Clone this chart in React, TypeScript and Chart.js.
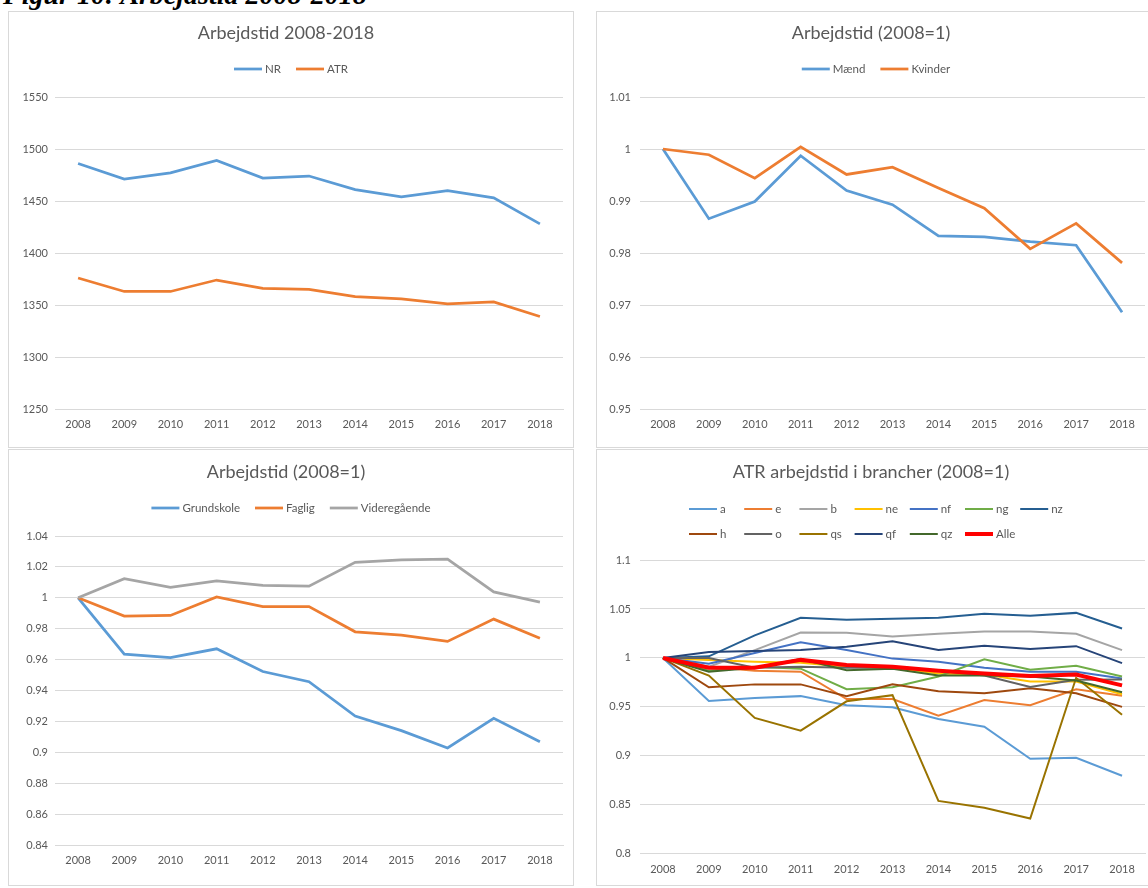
import React, { useEffect, useRef } from "react";
import { Chart, registerables } from "chart.js";

Chart.register(...registerables);

// ---------- data ----------
const years = ["2008", "2009", "2010", "2011", "2012", "2013", "2014", "2015", "2016", "2017", "2018"];

// Panel 1: Arbejdstid 2008-2018 (hours)
const nr = [1486, 1471, 1477, 1489, 1472, 1474, 1461, 1454, 1460, 1453, 1428];
const atr = [1376, 1363, 1363, 1374, 1366, 1365, 1358, 1356, 1351, 1353, 1339];

// Panel 2: Arbejdstid (2008=1) by gender
const maend = [1, 0.9866, 0.9899, 0.9987, 0.992, 0.9893, 0.9833, 0.9831, 0.9822, 0.9815, 0.9686];
const kvinder = [1, 0.9989, 0.9944, 1.0004, 0.9951, 0.9965, 0.9925, 0.9886, 0.9808, 0.9857, 0.9781];

// Panel 3: Arbejdstid (2008=1) by education
const grundskole = [1, 0.9635, 0.9613, 0.967, 0.9523, 0.9457, 0.9235, 0.914, 0.9028, 0.922, 0.9068];
const faglig = [1, 0.9882, 0.9886, 1.0005, 0.9943, 0.9943, 0.978, 0.9758, 0.9718, 0.9862, 0.9738];
const videregaaende = [1, 1.0124, 1.0068, 1.011, 1.008, 1.0075, 1.023, 1.0245, 1.025, 1.0038, 0.9972];

// Panel 4: ATR arbejdstid i brancher (2008=1)
const brA = [1, 0.956, 0.959, 0.961, 0.9517, 0.9497, 0.9377, 0.9297, 0.897, 0.898, 0.8797];
const brE = [1, 0.991, 0.987, 0.986, 0.958, 0.958, 0.941, 0.957, 0.9517, 0.968, 0.9613];
const brB = [1, 0.991, 1.008, 1.026, 1.0257, 1.022, 1.0247, 1.027, 1.027, 1.0247, 1.008];
const brNe = [1, 0.998, 0.996, 0.995, 0.991, 0.99, 0.984, 0.983, 0.976, 0.976, 0.963];
const brNf = [1, 0.994, 1.005, 1.016, 1.008, 0.9993, 0.996, 0.99, 0.986, 0.986, 0.979];
const brNg = [1, 0.987, 0.991, 0.989, 0.968, 0.97, 0.981, 0.9987, 0.988, 0.992, 0.981];
const brNz = [1, 1.0016, 1.023, 1.041, 1.039, 1.04, 1.041, 1.045, 1.043, 1.046, 1.03];
const brH = [1, 0.97, 0.973, 0.973, 0.961, 0.973, 0.966, 0.964, 0.969, 0.964, 0.95];
const brO = [1, 1.0, 0.99, 0.991, 0.99, 0.99, 0.987, 0.982, 0.9704, 0.9777, 0.978];
const brQs = [1, 0.982, 0.9387, 0.9257, 0.9557, 0.962, 0.854, 0.847, 0.836, 0.9797, 0.942];
const brQf = [1, 1.006, 1.007, 1.008, 1.0115, 1.017, 1.008, 1.0125, 1.009, 1.012, 0.9947];
const brQz = [1, 0.986, 0.99, 0.999, 0.9875, 0.989, 0.982, 0.982, 0.981, 0.977, 0.965];
const brAlle = [1, 0.99, 0.99, 0.998, 0.9928, 0.991, 0.987, 0.984, 0.9816, 0.983, 0.972];

// ---------- style ----------
const FONT = "Lato";
const TEXT = "#595959";
const GRID = "#D9D9D9";

type Series = { label: string; data: number[]; color: string; width: number };

type LegendCfg = { rows: number[][]; ys: number[]; startX?: number; colWidth?: number };

function makeLegend(cfg: LegendCfg) {
  return {
    id: "excelLegend",
    afterDraw(chart: any) {
      const ctx = chart.ctx as CanvasRenderingContext2D;
      const ds = chart.data.datasets;
      const lineLen = 28;
      const gap = 3;
      const spacing = 15;
      ctx.save();
      ctx.font = `11.5px ${FONT}`;
      ctx.textBaseline = "middle";
      ctx.textAlign = "left";
      cfg.rows.forEach((row, r) => {
        const y = cfg.ys[r];
        const widths = row.map((i) =>
          cfg.colWidth !== undefined
            ? cfg.colWidth
            : lineLen + gap + ctx.measureText(ds[i].label).width + spacing
        );
        const total = widths.reduce((a, b) => a + b, 0) - (cfg.colWidth !== undefined ? 0 : spacing);
        let x = cfg.startX !== undefined ? cfg.startX : (chart.width - total) / 2;
        row.forEach((i, k) => {
          const d = ds[i];
          ctx.strokeStyle = d.borderColor;
          ctx.lineWidth = d.borderWidth;
          ctx.lineCap = "butt";
          ctx.beginPath();
          ctx.moveTo(x, y);
          ctx.lineTo(x + lineLen, y);
          ctx.stroke();
          ctx.fillStyle = TEXT;
          ctx.fillText(d.label, x + lineLen + gap, y + 0.5);
          x += widths[k];
        });
      });
      ctx.restore();
    },
  };
}

const fmt = (v: number) => String(Math.round(v * 10000) / 10000);

type PanelProps = {
  left: number;
  top: number;
  width: number;
  height: number;
  title: string;
  series: Series[];
  yMin: number;
  yMax: number;
  step: number;
  titleTop: number;
  titleBottom: number;
  yWidth: number;
  yPad: number;
  padRight: number;
  padBottom: number;
  legend: LegendCfg;
};

function Panel(p: PanelProps) {
  const ref = useRef<HTMLCanvasElement | null>(null);
  const cw = p.width - 2;
  const ch = p.height - 2;
  useEffect(() => {
    if (!ref.current) return;
    const n = p.series.length;
    const chart = new Chart(ref.current, {
      type: "line",
      data: {
        labels: years,
        datasets: p.series.map((s, i) => ({
          label: s.label,
          data: s.data,
          borderColor: s.color,
          backgroundColor: s.color,
          borderWidth: s.width,
          pointRadius: 0,
          pointHoverRadius: 0,
          tension: 0,
          fill: false,
          order: n - i,
        })),
      },
      options: {
        responsive: false,
        maintainAspectRatio: false,
        animation: false,
        devicePixelRatio: 1,
        events: [],
        layout: { padding: { left: 0, right: p.padRight, top: 0, bottom: p.padBottom } },
        plugins: {
          legend: { display: false },
          tooltip: { enabled: false },
          title: {
            display: true,
            text: p.title,
            color: TEXT,
            font: { family: FONT, size: 18, weight: "normal" },
            padding: { top: p.titleTop, bottom: p.titleBottom },
          },
        },
        scales: {
          x: {
            offset: true,
            grid: { display: false, drawTicks: false },
            border: { display: true, color: GRID, width: 1 },
            ticks: {
              color: TEXT,
              font: { family: FONT, size: 11 },
              padding: 9,
              maxRotation: 0,
              autoSkip: false,
            },
          },
          y: {
            min: p.yMin,
            max: p.yMax,
            grid: { color: GRID, lineWidth: 1, drawTicks: false },
            border: { display: false },
            ticks: {
              stepSize: p.step,
              color: TEXT,
              font: { family: FONT, size: 11 },
              padding: p.yPad,
              callback: (v: any) => fmt(Number(v)),
            },
            afterFit: (s: any) => {
              s.width = p.yWidth;
            },
          },
        },
      } as any,
      plugins: [makeLegend(p.legend) as any],
    });
    return () => chart.destroy();
  }, []);
  return (
    <div
      style={{
        position: "absolute",
        left: p.left,
        top: p.top,
        width: p.width - 2,
        height: p.height - 2,
        border: `1px solid ${GRID}`,
        background: "#fff",
      }}
    >
      <canvas ref={ref} width={cw} height={ch} style={{ display: "block", width: cw, height: ch }} />
    </div>
  );
}

export default function App() {
  const s1: Series[] = [
    { label: "NR", data: nr, color: "#5B9BD5", width: 2.75 },
    { label: "ATR", data: atr, color: "#ED7D31", width: 2.75 },
  ];
  const s2: Series[] = [
    { label: "Mænd", data: maend, color: "#5B9BD5", width: 2.75 },
    { label: "Kvinder", data: kvinder, color: "#ED7D31", width: 2.75 },
  ];
  const s3: Series[] = [
    { label: "Grundskole", data: grundskole, color: "#5B9BD5", width: 2.75 },
    { label: "Faglig", data: faglig, color: "#ED7D31", width: 2.75 },
    { label: "Videregående", data: videregaaende, color: "#A5A5A5", width: 2.75 },
  ];
  const s4: Series[] = [
    { label: "a", data: brA, color: "#5B9BD5", width: 2 },
    { label: "e", data: brE, color: "#ED7D31", width: 2 },
    { label: "b", data: brB, color: "#A5A5A5", width: 2 },
    { label: "ne", data: brNe, color: "#FFC000", width: 2 },
    { label: "nf", data: brNf, color: "#4472C4", width: 2 },
    { label: "ng", data: brNg, color: "#70AD47", width: 2 },
    { label: "nz", data: brNz, color: "#255E91", width: 2 },
    { label: "h", data: brH, color: "#9E480E", width: 2 },
    { label: "o", data: brO, color: "#636363", width: 2 },
    { label: "qs", data: brQs, color: "#997300", width: 2 },
    { label: "qf", data: brQf, color: "#264478", width: 2 },
    { label: "qz", data: brQz, color: "#43682B", width: 2 },
    { label: "Alle", data: brAlle, color: "#FF0000", width: 4 },
  ];

  return (
    <div
      style={{
        position: "fixed",
        left: 0,
        top: 0,
        width: 1148,
        height: 888,
        overflow: "hidden",
        background: "#fff",
      }}
    >
      <div
        style={{
          position: "absolute",
          left: 3,
          top: -19,
          fontFamily: "'Liberation Serif', 'Times New Roman', serif",
          fontWeight: "bold",
          fontStyle: "italic",
          fontSize: 28,
          lineHeight: "28px",
          whiteSpace: "nowrap",
          color: "#000",
        }}
      >
        Figur 10: Arbejdstid 2008-2018
      </div>
      <Panel
        left={8}
        top={11}
        width={566}
        height={437}
        title="Arbejdstid 2008-2018"
        series={s1}
        yMin={1250}
        yMax={1550}
        step={50}
        titleTop={10.2}
        titleBottom={53.2}
        yWidth={46}
        yPad={7}
        padRight={10}
        padBottom={6.8}
        legend={{ rows: [[0, 1]], ys: [57] }}
      />
      <Panel
        left={596}
        top={11}
        width={560}
        height={437}
        title="Arbejdstid (2008=1)"
        series={s2}
        yMin={0.95}
        yMax={1.01}
        step={0.01}
        titleTop={10.2}
        titleBottom={53.2}
        yWidth={43}
        yPad={9}
        padRight={10}
        padBottom={6.8}
        legend={{ rows: [[0, 1]], ys: [57] }}
      />
      <Panel
        left={8}
        top={449}
        width={566}
        height={437}
        title="Arbejdstid (2008=1)"
        series={s3}
        yMin={0.84}
        yMax={1.04}
        step={0.02}
        titleTop={11.2}
        titleBottom={53.2}
        yWidth={46}
        yPad={7}
        padRight={10}
        padBottom={8.8}
        legend={{ rows: [[0, 1, 2]], ys: [58] }}
      />
      <Panel
        left={596}
        top={449}
        width={560}
        height={437}
        title="ATR arbejdstid i brancher (2008=1)"
        series={s4}
        yMin={0.8}
        yMax={1.1}
        step={0.05}
        titleTop={11.2}
        titleBottom={77.2}
        yWidth={43}
        yPad={9}
        padRight={10}
        padBottom={0}
        legend={{
          rows: [
            [0, 1, 2, 3, 4, 5, 6],
            [7, 8, 9, 10, 11, 12],
          ],
          ys: [59, 84],
          startX: 92,
          colWidth: 55.2,
        }}
      />
    </div>
  );
}
